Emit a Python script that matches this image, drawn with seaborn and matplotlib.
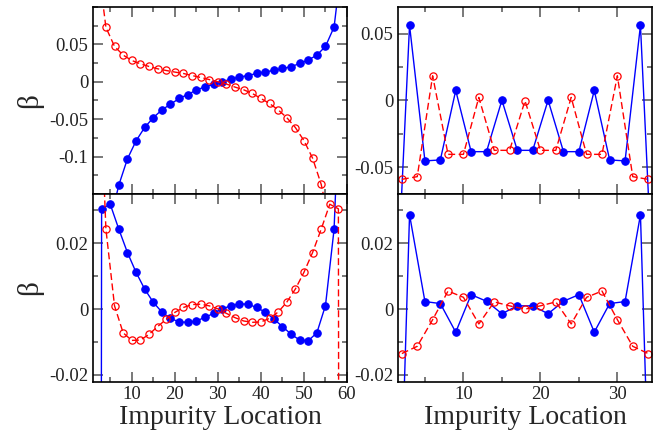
import numpy as np
import pandas as pd
import matplotlib
matplotlib.use("Agg")
import matplotlib.pyplot as plt
import seaborn as sns
from matplotlib.ticker import MultipleLocator

# top-left: long chain, blue on odd sites, red on even sites
tl_blue_x = list(range(5, 60, 2))
tl_blue_y = [-0.186, -0.138, -0.103, -0.079, -0.061, -0.048, -0.0375, -0.030,
             -0.0223, -0.017, -0.0111, -0.0067, -0.0036, 0.0, 0.0036, 0.0063,
             0.0084, 0.0111, 0.0134, 0.0151, 0.0178, 0.0201, 0.0245, 0.029,
             0.0357, 0.0473, 0.0732, 0.17]
tl_red_x = list(range(2, 57, 2))
tl_red_y = [0.165, 0.0727, 0.0473, 0.0357, 0.0285, 0.0241, 0.0205, 0.0174,
            0.0151, 0.0130, 0.0111, 0.0084, 0.0058, 0.0030, 0.0, -0.003,
            -0.0071, -0.0107, -0.0156, -0.0223, -0.029, -0.0375, -0.0478,
            -0.0611, -0.0786, -0.102, -0.137, -0.19]

# bottom-left
bl_blue_x = list(range(1, 60, 2))
bl_blue_y = [-2.0, 0.0305, 0.0319, 0.0243, 0.0172, 0.0112, 0.0061, 0.0021,
             -0.0009, -0.0028, -0.0039, -0.004, -0.0036, -0.0025, -0.0013,
             0.0001, 0.001, 0.0016, 0.0015, 0.0005, -0.0009, -0.003, -0.0053,
             -0.0076, -0.0094, -0.0096, -0.0072, 0.0011, 0.0243, 0.09]
bl_red_x = list(range(2, 61, 2))
bl_red_y = [0.09, 0.0243, 0.001, -0.0072, -0.0095, -0.0094, -0.0077, -0.0053,
            -0.0031, -0.001, 0.0005, 0.0014, 0.0015, 0.001, 0.0001, -0.0013,
            -0.0026, -0.0036, -0.004, -0.0039, -0.0028, -0.0009, 0.0021,
            0.0061, 0.0112, 0.0172, 0.0243, 0.0319, 0.0305, -2.0]

# top-right: short chain
tr_blue_x = list(range(1, 36, 2))
tr_blue_y = [-0.19, 0.0563, -0.0452, -0.0445, 0.0075, -0.0383, -0.0383, 0.0002,
             -0.0373, -0.0373, 0.0002, -0.0383, -0.0383, 0.0075, -0.0445,
             -0.0452, 0.0563, -0.19]
tr_red_x = list(range(2, 35, 2))
tr_red_y = [-0.059, -0.057, 0.0185, -0.0403, -0.0403, 0.0023, -0.0373, -0.0373,
            -0.0002, -0.0373, -0.0373, 0.0023, -0.0403, -0.0403, 0.0185,
            -0.057, -0.059]

# bottom-right
br_blue_x = list(range(1, 36, 2))
br_blue_y = [-0.125, 0.0287, 0.0023, 0.0017, -0.007, 0.0044, 0.0024, -0.0014,
             0.001, 0.001, -0.0014, 0.0024, 0.0044, -0.007, 0.0017, 0.0023,
             0.0287, -0.125]
br_red_x = list(range(2, 35, 2))
br_red_y = [-0.0135, -0.0113, -0.0032, 0.0055, 0.0036, -0.0045, 0.0022, 0.001,
            0.0, 0.001, 0.0022, -0.0045, 0.0036, 0.0055, -0.0032, -0.0113,
            -0.0135]


def draw_pair(ax, bx, by, rx, ry):
    """Blue solid filled circles plus red dashed open circles."""
    sns.lineplot(x=bx, y=by, ax=ax, color="blue", lw=1.0, marker="o",
                 markersize=5.4, markeredgecolor="blue", markerfacecolor="blue",
                 estimator=None)
    sns.lineplot(x=rx, y=ry, ax=ax, color="red", lw=1.0,
                 linestyle=(0, (5, 2.5)), marker="o", markersize=5.2,
                 markeredgecolor="red", markerfacecolor="none",
                 markeredgewidth=0.9, estimator=None)


def style_axes(ax, ylim, yticks, ylabels, yminor, xlim, xticks, xlabels, show_x):
    ax.set_xlim(*xlim)
    ax.set_ylim(*ylim)
    ax.set_yticks(yticks, labels=ylabels)
    ax.yaxis.set_minor_locator(MultipleLocator(yminor))
    ax.xaxis.set_minor_locator(MultipleLocator(5))
    if show_x:
        ax.set_xticks(xticks, labels=xlabels)
        ax.set_xlabel("Impurity Location", fontsize=20, labelpad=1)
    else:
        ax.set_xticks(xticks, labels=[])
        ax.set_xlabel("")
    ax.set_ylabel("")
    ax.tick_params(which="both", direction="in", top=True, right=True,
                   colors="#555555", labelcolor="#222222", labelsize=13.5,
                   width=1.1)
    ax.tick_params(which="major", length=7)
    ax.tick_params(which="minor", length=3.8)
    for sp in ax.spines.values():
        sp.set_linewidth(1.2)
        sp.set_color("black")


def main():
    sns.set_style("ticks")
    plt.rcParams["font.family"] = ["Liberation Serif", "DejaVu Serif"]
    plt.rcParams["axes.unicode_minus"] = False

    fig = plt.figure(figsize=(6.59, 4.36), dpi=100)
    w = 254 / 659
    ax_tl = fig.add_axes([93 / 659, 0.555, w, 0.429])
    ax_bl = fig.add_axes([93 / 659, 0.125, w, 0.430])
    ax_tr = fig.add_axes([398 / 659, 0.555, w, 0.429])
    ax_br = fig.add_axes([398 / 659, 0.125, w, 0.430])

    draw_pair(ax_tl, tl_blue_x, tl_blue_y, tl_red_x, tl_red_y)
    draw_pair(ax_bl, bl_blue_x, bl_blue_y, bl_red_x, bl_red_y)
    draw_pair(ax_tr, tr_blue_x, tr_blue_y, tr_red_x, tr_red_y)
    draw_pair(ax_br, br_blue_x, br_blue_y, br_red_x, br_red_y)

    left_xt = [10, 20, 30, 40, 50, 60]
    right_xt = [10, 20, 30]
    style_axes(ax_tl, (-0.15, 0.1), [-0.1, -0.05, 0, 0.05],
               ["-0.1", "-0.05", "0", "0.05"], 0.025,
               (1, 60), left_xt, [], False)
    style_axes(ax_bl, (-0.022, 0.035), [-0.02, 0, 0.02],
               ["-0.02", "0", "0.02"], 0.01,
               (1, 60), left_xt, [str(v) for v in left_xt], True)
    style_axes(ax_tr, (-0.07, 0.07), [-0.05, 0, 0.05],
               ["-0.05", "0", "0.05"], 0.025,
               (1.5, 34.5), right_xt, [], False)
    style_axes(ax_br, (-0.022, 0.035), [-0.02, 0, 0.02],
               ["-0.02", "0", "0.02"], 0.01,
               (1.5, 34.5), right_xt, [str(v) for v in right_xt], True)

    ax_tl.set_ylabel("β", fontsize=21)
    ax_bl.set_ylabel("β", fontsize=21)
    ax_tl.yaxis.set_label_coords(-0.195, 0.5)
    ax_bl.yaxis.set_label_coords(-0.195, 0.5)

    fig.savefig("out.png", dpi=100)


if __name__ == "__main__":
    main()
